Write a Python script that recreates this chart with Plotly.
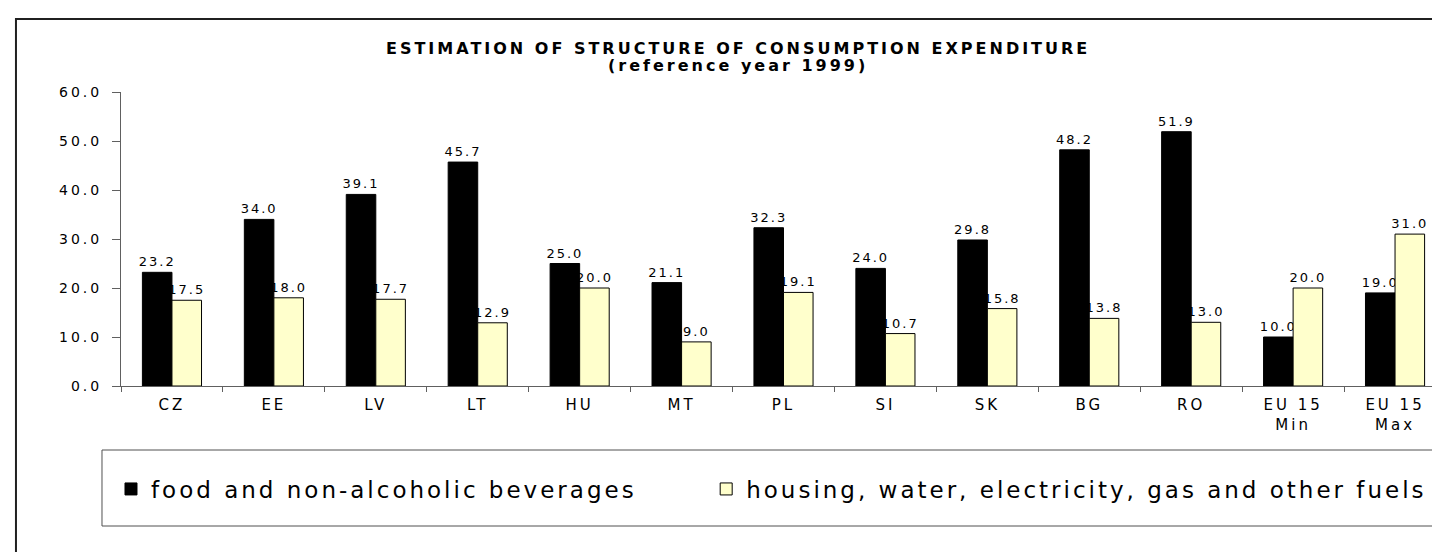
import plotly.graph_objects as go

categories = ["CZ", "EE", "LV", "LT", "HU", "MT", "PL", "SI", "SK", "BG", "RO", "EU 15<br>Min", "EU 15<br>Max"]
food = [23.2, 34.0, 39.1, 45.7, 25.0, 21.1, 32.3, 24.0, 29.8, 48.2, 51.9, 10.0, 19.0]
housing = [17.5, 18.0, 17.7, 12.9, 20.0, 9.0, 19.1, 10.7, 15.8, 13.8, 13.0, 20.0, 31.0]
series_names = ["food and non-alcoholic beverages", "housing, water, electricity, gas and other fuels"]
y_tick_values = [0, 10, 20, 30, 40, 50, 60]
title_line1 = "ESTIMATION OF STRUCTURE OF CONSUMPTION EXPENDITURE"
title_line2 = "(reference year 1999)"

FONT = "DejaVu Sans, Arial, sans-serif"
W, H = 1440, 552
L, R, T, B = 113, 2.4, 84, 174
pw = W - L - R
ph = H - T - B


def px_x(x):
    return (x - L) / pw


def px_y(y):
    return (H - B - y) / ph


def spaced(text, sp):
    return "<br>".join(f"<span style='letter-spacing:{sp}px'>{part}</span>" for part in text.split("<br>"))


fig = go.Figure()
fig.add_trace(go.Bar(
    x=categories, y=food, name=spaced(series_names[0], 3), legend="legend",
    marker=dict(color="#000000", line=dict(color="#000000", width=1)),
    texttemplate=spaced("%{y:.1f}", 2), textposition="outside", constraintext="none",
    textfont=dict(family=FONT, size=13, color="#000000"), cliponaxis=False,
))
fig.add_trace(go.Bar(
    x=categories, y=housing, name=spaced(series_names[1], 3), legend="legend2",
    marker=dict(color="#FFFFCC", line=dict(color="#000000", width=1)),
    texttemplate=spaced("%{y:.1f}", 2), textposition="outside", constraintext="none",
    textfont=dict(family=FONT, size=13, color="#000000"), cliponaxis=False,
))

legend_common = dict(
    orientation="h", yanchor="middle", y=px_y(481), xanchor="left",
    bgcolor="rgba(0,0,0,0)", borderwidth=0,
    font=dict(family=FONT, size=23, color="#000000"),
)

fig.update_layout(
    width=W, height=H,
    margin=dict(l=L, r=R, t=T, b=B, autoexpand=False),
    paper_bgcolor="white", plot_bgcolor="white",
    barmode="group", bargap=0.42, bargroupgap=0,
    font=dict(family=FONT, color="#000000"),
    showlegend=True,
    legend=dict(legend_common, x=px_x(103)),
    legend2=dict(legend_common, x=px_x(698)),
    xaxis=dict(
        range=[-0.5, 12.5], showline=True, linecolor="#606060", linewidth=1,
        ticks="outside", ticklen=5, tickcolor="#606060", tickson="boundaries",
        tickmode="array", tickvals=categories, ticktext=[spaced(c, 3) for c in categories],
        tickfont=dict(family=FONT, size=15, color="#000000"),
        ticklabelstandoff=5, showgrid=False, zeroline=False, fixedrange=True,
    ),
    yaxis=dict(
        range=[0, 60], showline=True, linecolor="#606060", linewidth=1,
        tickmode="array", tickvals=y_tick_values,
        ticktext=[spaced(f"{v:.1f}", 3) for v in y_tick_values],
        ticks="outside", ticklen=8, tickcolor="#606060",
        tickfont=dict(family=FONT, size=14, color="#000000"),
        ticklabelstandoff=7, showgrid=False, zeroline=False, fixedrange=True,
    ),
    annotations=[
        dict(text="<b>" + spaced(title_line1, 3) + "</b>", xref="paper", yref="paper",
             x=px_x(730), y=px_y(40), xanchor="center", yanchor="middle", showarrow=False,
             font=dict(family=FONT, size=16, color="#000000")),
        dict(text="<b>" + spaced(title_line2, 3) + "</b>", xref="paper", yref="paper",
             x=px_x(730), y=px_y(57), xanchor="center", yanchor="middle", showarrow=False,
             font=dict(family=FONT, size=16, color="#000000")),
    ],
    shapes=[
        dict(type="rect", xref="paper", yref="paper",
             x0=px_x(8), x1=px_x(1460), y0=px_y(11), y1=px_y(600),
             line=dict(color="#202020", width=2), fillcolor="rgba(0,0,0,0)", layer="below"),
        dict(type="rect", xref="paper", yref="paper",
             x0=px_x(94), x1=px_x(1438), y0=px_y(442), y1=px_y(518),
             line=dict(color="#505050", width=1), fillcolor="rgba(0,0,0,0)", layer="below"),
    ],
)

fig.write_html("out.html")
